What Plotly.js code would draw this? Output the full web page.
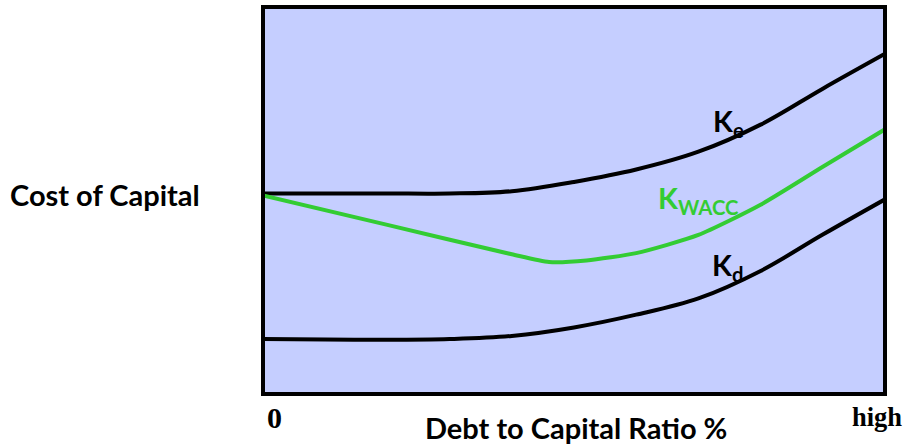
<!DOCTYPE html>
<html>
<head>
<meta charset="utf-8">
<script src="https://cdn.plot.ly/plotly-3.0.1.min.js"></script>
<style>
  html, body { margin: 0; padding: 0; background: #ffffff; }
  #chart { width: 909px; height: 445px; }
</style>
</head>
<body>
<div id="chart"></div>
<script>
// Debt-to-capital ratio (0 = none, 100 = high) and cost of capital (relative units)
const debtRatio = [0, 10, 20, 30, 40, 50, 60, 70, 80, 90, 100];
const costEquity = [51.8, 51.8, 51.8, 51.8, 52.4, 54.8, 58.0, 62.6, 69.6, 78.9, 87.9];
const costDebt = [14.2, 14.1, 14.0, 14.2, 15.0, 17.2, 20.5, 24.7, 31.8, 41.2, 50.3];

const waccRatio = [0, 20, 40, 46, 52, 60, 70, 80, 90, 100];
const costWacc = [51.3, 43.7, 36.1, 34.1, 34.5, 36.4, 41.1, 48.9, 58.7, 68.4];

const curveLabels = ['K<sub>e</sub>', 'K<sub>WACC</sub>', 'K<sub>d</sub>'];
const axisEnds = ['0', 'high'];
const xAxisLabel = 'Debt to Capital Ratio %';
const yAxisLabel = 'Cost of Capital';

const sans = 'Lato, "Open Sans", sans-serif';
const serif = '"Liberation Serif", "DejaVu Serif", serif';
const green = '#33CC33';

const traces = [
  { x: debtRatio, y: costEquity, mode: 'lines', line: { color: '#000000', width: 4, shape: 'spline', smoothing: 1 }, hoverinfo: 'skip' },
  { x: debtRatio, y: costDebt, mode: 'lines', line: { color: '#000000', width: 4, shape: 'spline', smoothing: 1 }, hoverinfo: 'skip' },
  { x: waccRatio, y: costWacc, mode: 'lines', line: { color: green, width: 4, shape: 'spline', smoothing: 0.6 }, hoverinfo: 'skip' }
];

const hiddenAxis = { showgrid: false, zeroline: false, showticklabels: false, ticks: '', showline: false, fixedrange: true };

const layout = {
  width: 909,
  height: 445,
  margin: { l: 263, r: 24, t: 7, b: 51, pad: 0 },
  paper_bgcolor: '#ffffff',
  plot_bgcolor: '#C5CEFF',
  showlegend: false,
  xaxis: Object.assign({ range: [0, 100] }, hiddenAxis),
  yaxis: Object.assign({ range: [0, 100] }, hiddenAxis),
  shapes: [
    { type: 'rect', xref: 'paper', yref: 'paper', x0: 0, x1: 1, y0: 0, y1: 1, line: { color: '#000000', width: 4 }, fillcolor: 'rgba(0,0,0,0)', layer: 'above' }
  ],
  annotations: [
    { text: '<b>' + curveLabels[0] + '</b>', x: 72.0, y: 70.2, xref: 'x', yref: 'y', xanchor: 'left', yanchor: 'middle', showarrow: false, font: { family: sans, size: 29, color: '#000000' } },
    { text: '<b>' + curveLabels[1] + '</b>', x: 63.2, y: 50.3, xref: 'x', yref: 'y', xanchor: 'left', yanchor: 'middle', showarrow: false, font: { family: sans, size: 29, color: green } },
    { text: '<b>' + curveLabels[2] + '</b>', x: 71.8, y: 32.9, xref: 'x', yref: 'y', xanchor: 'left', yanchor: 'middle', showarrow: false, font: { family: sans, size: 29, color: '#000000' } },
    { text: '<b>' + yAxisLabel + '</b>', x: -0.254, y: 0.515, xref: 'paper', yref: 'paper', xanchor: 'center', yanchor: 'middle', showarrow: false, font: { family: sans, size: 29, color: '#000000' } },
    { text: '<b>' + xAxisLabel + '</b>', x: 0.503, y: -0.087, xref: 'paper', yref: 'paper', xanchor: 'center', yanchor: 'middle', showarrow: false, font: { family: sans, size: 29, color: '#000000' } },
    { text: '<b>' + axisEnds[0] + '</b>', x: 0.0177, y: -0.062, xref: 'paper', yref: 'paper', xanchor: 'center', yanchor: 'middle', showarrow: false, font: { family: serif, size: 30, color: '#000000' } },
    { text: '<b>' + axisEnds[1] + '</b>', x: 0.987, y: -0.06, xref: 'paper', yref: 'paper', xanchor: 'center', yanchor: 'middle', showarrow: false, font: { family: serif, size: 26.5, color: '#000000' } }
  ]
};

Plotly.newPlot('chart', traces, layout, { displayModeBar: false, staticPlot: true });
</script>
</body>
</html>
